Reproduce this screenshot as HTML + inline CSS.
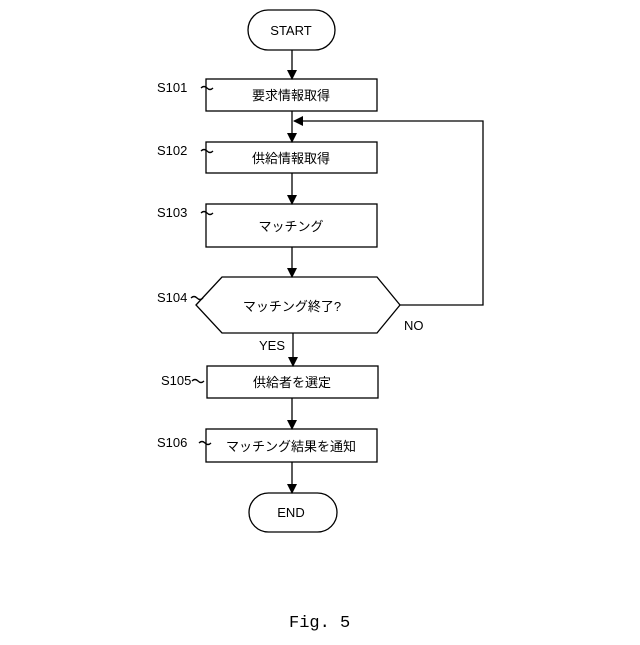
<!DOCTYPE html>
<html><head><meta charset="utf-8"><style>
html,body{margin:0;padding:0;background:#fff;}
svg text{font-family:"Liberation Sans","Noto Sans CJK JP",sans-serif;fill:#000;}
</style></head><body>
<svg width="640" height="640" viewBox="0 0 640 640" xmlns="http://www.w3.org/2000/svg">
<defs><marker id="a" markerWidth="10" markerHeight="10" refX="9" refY="5" orient="auto" markerUnits="userSpaceOnUse"><path d="M0,0 L10,5 L0,10 z" fill="#000"/></marker></defs>
<g stroke="#000" stroke-width="1.3" fill="none">
<rect x="248" y="10" width="87" height="40" rx="20"/>
<rect x="206" y="79" width="171" height="32"/>
<rect x="206" y="142" width="171" height="31"/>
<rect x="206" y="204" width="171" height="43"/>
<polygon points="196,305 222,277 377,277 400,305 377,333 222,333"/>
<rect x="207" y="366" width="171" height="32"/>
<rect x="206" y="429" width="171" height="33"/>
<rect x="249" y="493" width="88" height="39" rx="19.5"/>
<line x1="292" y1="50" x2="292" y2="79" marker-end="url(#a)"/>
<line x1="292" y1="111" x2="292" y2="142" marker-end="url(#a)"/>
<line x1="292" y1="173" x2="292" y2="204" marker-end="url(#a)"/>
<line x1="292" y1="247" x2="292" y2="277" marker-end="url(#a)"/>
<line x1="293" y1="333" x2="293" y2="366" marker-end="url(#a)"/>
<line x1="292" y1="398" x2="292" y2="429" marker-end="url(#a)"/>
<line x1="292" y1="462" x2="292" y2="493" marker-end="url(#a)"/>
<polyline points="400,305 483,305 483,121 294,121" marker-end="url(#a)"/>
<path d="M201,88 q3,-3 6,0 t6,0"/><path d="M201,151 q3,-3 6,0 t6,0"/><path d="M201,213 q3,-3 6,0 t6,0"/><path d="M191,298 q3,-3 6,0 t6,0"/><path d="M192,381 q3,-3 6,0 t6,0"/><path d="M199,443 q3,-3 6,0 t6,0"/>
</g>
<g font-size="13">
<text x="291" y="35" text-anchor="middle">START</text>
<text x="291" y="517" text-anchor="middle">END</text>
<text x="291" y="100" text-anchor="middle">要求情報取得</text>
<text x="291" y="163" text-anchor="middle">供給情報取得</text>
<text x="291" y="231" text-anchor="middle">マッチング</text>
<text x="292" y="311" text-anchor="middle">マッチング終了?</text>
<text x="292" y="387" text-anchor="middle">供給者を選定</text>
<text x="291" y="451" text-anchor="middle">マッチング結果を通知</text>
<text x="157" y="92">S101</text>
<text x="157" y="155">S102</text>
<text x="157" y="217">S103</text>
<text x="157" y="302">S104</text>
<text x="161" y="385">S105</text>
<text x="157" y="447">S106</text>
<text x="404" y="330">NO</text>
<text x="259" y="350">YES</text>
</g>
<text x="289" y="627" font-size="17" style='font-family:"Liberation Mono",monospace'>Fig. 5</text>
</svg>
</body></html>
